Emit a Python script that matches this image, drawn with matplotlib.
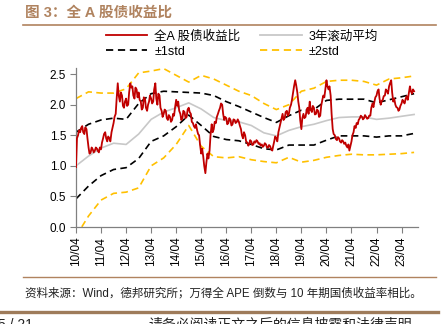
import numpy as np
import pandas as pd
import matplotlib
matplotlib.use("Agg")
import matplotlib.pyplot as plt
from matplotlib.lines import Line2D

plt.rcParams['font.family'] = ['Liberation Sans', 'Noto Sans CJK SC']
plt.rcParams['axes.unicode_minus'] = False

# ---------------------------------------------------------
# DATA
# ---------------------------------------------------------
# semi-monthly A-share earnings yield / bond yield ratio, from 2010-04
ratio = [
    0.98, 1.45, 1.50, 1.58, 1.55, 1.62, 1.65, 1.55, 1.52, 1.63, 1.60, 1.45,
    1.30, 1.20, 1.22, 1.30, 1.27, 1.22, 1.25, 1.30, 1.28, 1.24, 1.22, 1.30,
    1.27, 1.38, 1.45, 1.52, 1.55, 1.45, 1.40, 1.48, 1.45, 1.40, 1.55, 1.62,
    1.70, 1.80, 1.85, 2.10, 2.35, 2.15, 2.05, 2.20, 2.15, 1.98, 1.95, 2.05,
    2.10, 1.98, 2.00, 2.20, 2.35, 2.28, 2.30, 2.15, 2.10, 2.28, 2.25, 2.12,
    2.20, 2.08, 2.05, 1.92, 1.95, 2.12, 2.10, 1.95, 1.90, 2.00, 2.05, 2.15,
    2.10, 2.02, 2.05, 2.25, 2.35, 2.10, 2.00, 2.18, 2.15, 1.95, 1.90, 1.80,
    1.85, 1.92, 1.90, 1.78, 1.75, 1.83, 1.80, 1.72, 1.75, 1.85, 1.82, 1.95,
    2.08, 1.98, 2.05, 1.90, 1.85, 1.75, 1.78, 1.90, 1.88, 1.78, 1.80, 1.92,
    1.95, 1.88, 1.85, 1.72, 1.70, 1.65, 1.62, 1.68, 1.58, 1.52, 1.50, 1.35,
    1.20, 1.28, 1.15, 1.00, 0.88, 1.05, 1.20, 1.12, 1.25, 1.50, 1.68, 1.55,
    1.60, 1.72, 1.70, 1.80, 1.85, 1.90, 1.95, 2.02, 2.00, 1.85, 1.75, 1.80,
    1.78, 1.68, 1.70, 1.78, 1.75, 1.66, 1.68, 1.76, 1.75, 1.70, 1.72, 1.76,
    1.72, 1.66, 1.60, 1.50, 1.45, 1.55, 1.50, 1.40, 1.38, 1.33, 1.35, 1.42,
    1.40, 1.34, 1.35, 1.40, 1.38, 1.42, 1.40, 1.36, 1.37, 1.33, 1.35, 1.31,
    1.33, 1.37, 1.35, 1.30, 1.30, 1.34, 1.32, 1.27, 1.25, 1.33, 1.40, 1.48,
    1.45, 1.40, 1.55, 1.62, 1.70, 1.78, 1.85, 1.75, 1.78, 1.88, 1.90, 1.82,
    1.85, 1.95, 2.00, 2.08, 2.20, 2.30, 2.40, 2.32, 2.20, 2.05, 1.95, 1.75,
    1.60, 1.78, 1.85, 1.78, 1.80, 1.90, 1.95, 1.85, 2.05, 1.92, 1.88, 1.98,
    1.95, 1.84, 1.85, 1.92, 1.90, 1.80, 1.82, 1.98, 2.08, 2.15, 2.12, 2.25,
    2.40, 2.30, 2.25, 2.30, 2.15, 1.85, 1.60, 1.52, 1.50, 1.44, 1.42, 1.47,
    1.45, 1.40, 1.38, 1.42, 1.40, 1.36, 1.38, 1.33, 1.30, 1.35, 1.25, 1.32,
    1.40, 1.50, 1.55, 1.65, 1.62, 1.70, 1.68, 1.75, 1.78, 1.82, 1.80, 1.76,
    1.78, 1.83, 1.80, 1.77, 1.78, 1.82, 1.82, 1.95, 2.02, 1.96, 2.05, 2.12,
    2.15, 2.22, 2.25, 2.10, 2.00, 2.06, 2.08, 2.14, 2.15, 2.25, 2.22, 2.18,
    2.30, 2.35, 2.40, 2.20, 2.05, 2.10, 2.00, 1.96, 1.95, 1.90, 1.92, 1.98,
    2.02, 2.08, 2.05, 2.02, 2.10, 2.14, 2.08, 2.18, 2.30, 2.22, 2.18, 2.25,
    2.22,
]
ratio_dates = pd.date_range("2010-04-01", periods=len(ratio), freq="SMS")

# half-yearly points of the rolling statistics
roll_mean = [1.00, 1.16, 1.29, 1.37, 1.35, 1.52, 1.76, 1.88, 1.95, 2.03, 1.93, 1.79,
             1.74, 1.72, 1.66, 1.54, 1.49, 1.58, 1.64, 1.68, 1.74, 1.79, 1.80, 1.80,
             1.76, 1.78, 1.81, 1.84]
std1_up = [1.55, 1.68, 1.75, 1.78, 1.76, 2.02, 2.18, 2.22, 2.21, 2.20, 2.19, 2.15,
           2.05, 1.97, 1.88, 1.79, 1.71, 1.82, 1.91, 1.92, 2.07, 2.09, 2.09, 2.09,
           2.03, 2.08, 2.13, 2.18]
std1_dn = [0.46, 0.67, 0.84, 0.94, 0.97, 1.12, 1.40, 1.49, 1.64, 1.83, 1.66, 1.48,
           1.43, 1.41, 1.35, 1.28, 1.26, 1.34, 1.34, 1.34, 1.42, 1.49, 1.49, 1.49,
           1.47, 1.49, 1.49, 1.53]
std2_up = [2.10, 2.21, 2.19, 2.19, 2.26, 2.52, 2.55, 2.59, 2.48, 2.37, 2.48, 2.42,
           2.32, 2.22, 2.15, 2.02, 1.92, 2.00, 2.22, 2.27, 2.38, 2.40, 2.40, 2.38,
           2.32, 2.42, 2.44, 2.47]
std2_dn = [-0.15, 0.18, 0.44, 0.55, 0.57, 0.64, 1.00, 1.13, 1.35, 1.66, 1.32, 1.15,
           1.13, 1.15, 1.10, 1.07, 1.05, 1.14, 1.06, 1.09, 1.14, 1.17, 1.19, 1.18,
           1.18, 1.19, 1.20, 1.22]
band_dates = pd.date_range("2010-04-01", periods=len(roll_mean), freq="6MS")

tick_years = list(range(2010, 2024))
tick_labels = [f"{y % 100:02d}/04" for y in tick_years]

# ---------------------------------------------------------
# FIGURE
# ---------------------------------------------------------
W, H = 442, 324
fig = plt.figure(figsize=(W / 100, H / 100), dpi=100)
brown = "#B0835F"

def fx(px):
    return px / W

def fy(py):
    return 1 - py / H

ax = fig.add_axes([fx(76), fy(227), fx(418) - fx(76), fy(68) - fy(227)])

dash = (4, 2.6)
ax.plot(band_dates, std2_up, color="#FFC000", lw=1.2, dashes=dash, zorder=2)
ax.plot(band_dates, std2_dn, color="#FFC000", lw=1.2, dashes=dash, zorder=2)
ax.plot(band_dates, std1_up, color="#000000", lw=1.2, dashes=dash, zorder=2)
ax.plot(band_dates, std1_dn, color="#000000", lw=1.2, dashes=dash, zorder=2)
ax.plot(band_dates, roll_mean, color="#C8C8C8", lw=1.2, zorder=3)
ax.plot(ratio_dates, ratio, color="#C00000", lw=1.3, zorder=4)

yt = [0, 0.5, 1.0, 1.5, 2.0, 2.5]
ax.set_ylim(0, 2.6)
ax.set_yticks(yt)
ax.set_yticklabels([f"{v:.1f}" for v in yt])
ax.set_xlim(pd.Timestamp("2010-04-01"), pd.Timestamp("2023-11-27"))
ax.set_xticks([pd.Timestamp(f"{y}-04-01") for y in tick_years])
ax.set_xticklabels(tick_labels, rotation=90)
ax.tick_params(labelsize=8.5, colors="#000000", length=4, width=0.8, pad=3)
ax.tick_params(axis="both", color="#808080")
for s in ["top", "right"]:
    ax.spines[s].set_visible(False)
for s in ["left", "bottom"]:
    ax.spines[s].set_color("#808080")
    ax.spines[s].set_linewidth(0.9)

# legend above the plot
h_red = Line2D([], [], color="#C00000", lw=1.3)
h_grey = Line2D([], [], color="#C8C8C8", lw=1.3)
h_blk = Line2D([], [], color="#000000", lw=1.3, dashes=dash)
h_yel = Line2D([], [], color="#FFC000", lw=1.3, dashes=dash)
fig.legend([h_red, h_blk, h_grey, h_yel],
           ["全A 股债收益比", "±1std", "3年滚动平均", "±2std"],
           ncol=2, loc="upper left", bbox_to_anchor=(fx(106), fy(30)),
           frameon=False, fontsize=9, handlelength=3.3, handletextpad=0.55,
           columnspacing=1.6, labelspacing=0.25, borderpad=0, borderaxespad=0)

# title & page decoration
fig.text(fx(25), fy(13), "图 3：全 A 股债收益比", color=brown, fontsize=10.5,
         fontweight="bold", va="center", ha="left")
fig.add_artist(Line2D([fx(23), fx(436)], [fy(25), fy(25)], color=brown, lw=1.2))
fig.add_artist(Line2D([fx(23), fx(436)], [fy(277), fy(277)], color=brown, lw=1.0))
fig.text(fx(25), fy(293), "资料来源：Wind，德邦研究所；万得全 APE 倒数与 10 年期国债收益率相比。",
         fontsize=8.3, va="center", ha="left", color="#222222")
fig.add_artist(Line2D([fx(0), fx(438)], [fy(312), fy(312)], color="#9E7B5A", lw=2.4))
fig.text(fx(-2), fy(318), "5 / 21", fontsize=10, va="top", ha="left", color="#222222")
fig.text(fx(148), fy(318), "请务必阅读正文之后的信息披露和法律声明", fontsize=10,
         va="top", ha="left", color="#222222")

fig.savefig("out.png", dpi=100)
